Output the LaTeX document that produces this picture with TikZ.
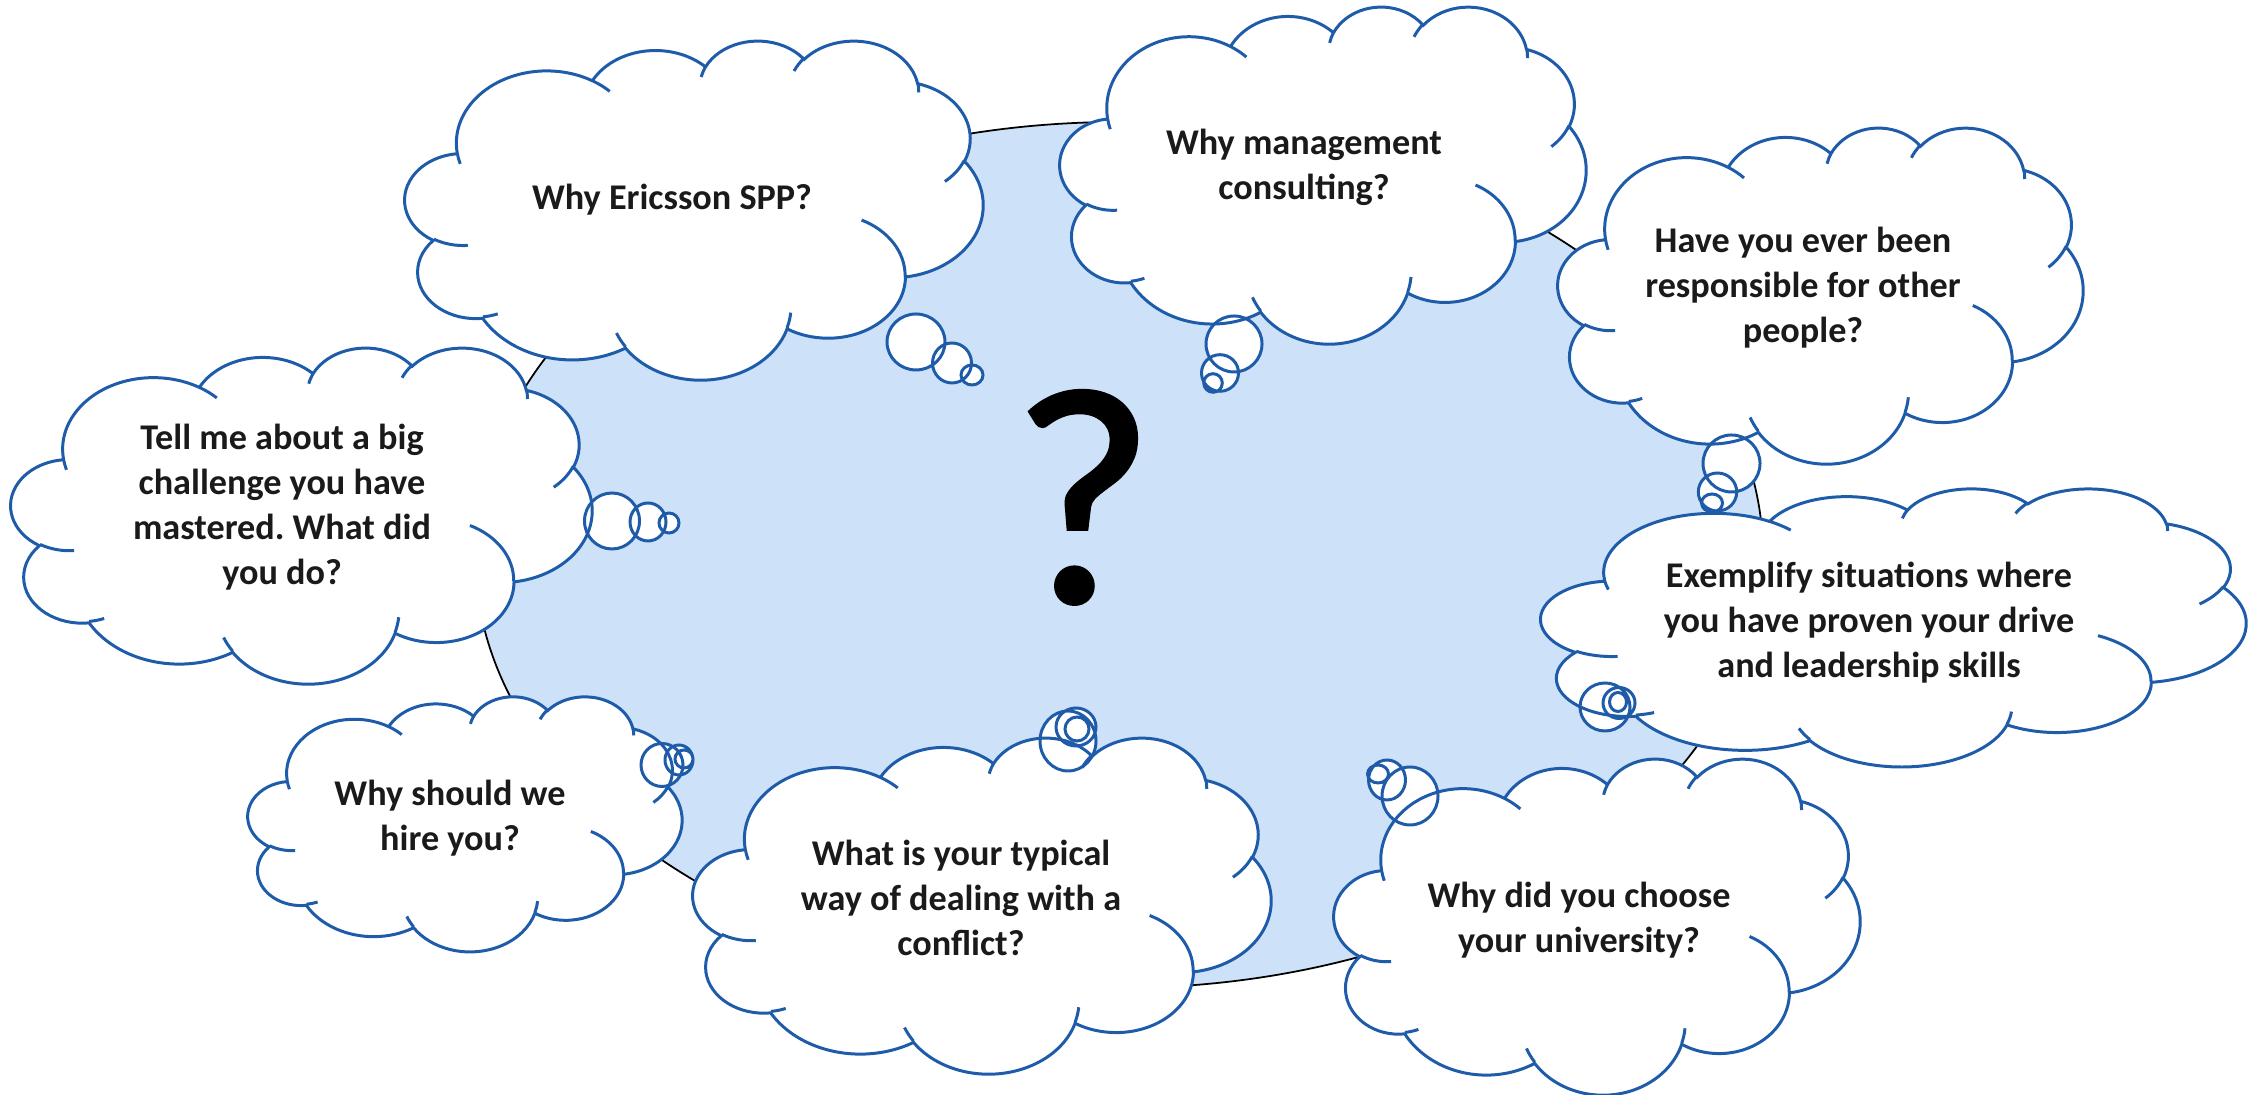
\documentclass[tikz,border=0pt]{standalone}
\usepackage{fontspec}
\setmainfont{Carlito}
\newfontfamily\qmarkfont[FakeBold=1.2]{Carlito}
\frenchspacing
\definecolor{ovalblue}{RGB}{205,225,249}
\definecolor{cloudblue}{RGB}{30,92,170}
\definecolor{textgrey}{RGB}{26,26,26}

% Outline of one cloud, in a unit box centred at the origin
\newcommand\cloudpath{(-0.4097,0.1674)
  arc[x radius=0.1563, y radius=0.2127, start angle=187.75, end angle=59.64]
  arc[x radius=0.1235, y radius=0.1682, start angle=152.02, end angle=45.43]
  arc[x radius=0.1010, y radius=0.1376, start angle=153.50, end angle=37.35]
  arc[x radius=0.1124, y radius=0.1527, start angle=139.71, end angle=10.21]
  arc[x radius=0.1235, y radius=0.1684, start angle=74.77, end angle=-23.21]
  arc[x radius=0.1568, y radius=0.2134, start angle=37.52, end angle=-81.86]
  arc[x radius=0.1339, y radius=0.1821, start angle=-0.46, end angle=-121.97]
  arc[x radius=0.1563, y radius=0.2133, start angle=-16.84, end angle=-146.22]
  arc[x radius=0.1787, y radius=0.2441, start angle=-58.98, end angle=-150.20]
  arc[x radius=0.1009, y radius=0.1370, start angle=276.69, end angle=136.90]
  arc[x radius=0.1006, y radius=0.1376, start angle=239.65, end angle=95.89]
  -- cycle}

% Short inner arcs of the cloud (same unit box)
\newcommand\cloudfolds{
  (-0.3914,-0.1060) arc[x radius=0.1006, y radius=0.1376, start angle=-85.55, end angle=-120.35]
  (-0.3396,-0.3079) arc[x radius=0.1009, y radius=0.1370, start angle=-68.24, end angle=-83.31]
  (-0.1186,-0.4049) arc[x radius=0.1563, y radius=0.2133, start angle=-146.22, end angle=-158.47]
  (0.1673,-0.3044) arc[x radius=0.1563, y radius=0.2133, start angle=-4.74, end angle=-16.84]
  (0.2900,-0.0313) arc[x radius=0.1339, y radius=0.1821, start angle=64.03, end angle=-0.46]
  (0.4676,0.1446) arc[x radius=0.1235, y radius=0.1684, start angle=-23.21, end angle=-49.64]
  (0.3871,0.3744) arc[x radius=0.1124, y radius=0.1527, start angle=10.21, end angle=-0.82]
  (0.1731,0.4085) arc[x radius=0.1124, y radius=0.1527, start angle=156.29, end angle=139.71]
  (0.0125,0.3907) arc[x radius=0.1010, y radius=0.1376, start angle=167.73, end angle=153.50]
  (-0.1759,0.3798) arc[x radius=0.1563, y radius=0.2127, start angle=59.64, end angle=45.71]
  (-0.4045,0.1345) arc[x radius=0.1563, y radius=0.2127, start angle=-163.19, end angle=-172.25]}

% #1,#2 centre, #3 width, #4 height, #5 the thought bubbles
\newcommand\thoughtcloud[5]{%
  \fill[white, shift={(#1,#2)}, xscale=#3, yscale=#4] \cloudpath;
  \fill[white] #5;
  \draw[cloudline, shift={(#1,#2)}, xscale=#3, yscale=#4] \cloudpath \cloudfolds;
  \draw[cloudline] #5;
}

\begin{document}
\begin{tikzpicture}[
    cloudline/.style={draw=cloudblue, line width=0.85pt},
    question/.style={align=center, text=textgrey,
      font=\fontsize{10.3}{12.8}\selectfont\bfseries},
    qmark/.style={anchor=base, font=\qmarkfont\fontsize{88}{88}\selectfont}]
    \useasboundingbox (0,0) rectangle (22.55,10.95);

    % Background oval
    \filldraw[fill=ovalblue, draw=black, line width=0.5pt]
        (11.19,5.40) ellipse[x radius=6.44, y radius=4.33];

    % Big question mark
    \node[qmark] (qm) at (10.83,4.93) {?};

    % Clouds with their bubbles
    \thoughtcloud{6.94}{8.855}{5.78}{3.39}{%
        (9.16,7.53) ellipse[x radius=0.29, y radius=0.28]
        (9.52,7.32) ellipse[x radius=0.195, y radius=0.20]
        (9.72,7.20) ellipse[x radius=0.11, y radius=0.10]}
    \thoughtcloud{13.23}{9.205}{5.26}{3.37}{%
        (12.34,7.51) ellipse[x radius=0.28, y radius=0.28]
        (12.20,7.22) ellipse[x radius=0.185, y radius=0.183]
        (12.13,7.12) ellipse[x radius=0.093, y radius=0.093]}
    \thoughtcloud{18.935}{4.68}{7.05}{2.78}{%
        (16.05,3.88) ellipse[x radius=0.25, y radius=0.24]
        (16.19,3.92) ellipse[x radius=0.16, y radius=0.155]
        (16.18,3.93) ellipse[x radius=0.085, y radius=0.095]}
    \thoughtcloud{18.205}{8.00}{5.25}{3.36}{%
        (17.315,6.315) ellipse[x radius=0.285, y radius=0.285]
        (17.175,6.03) ellipse[x radius=0.192, y radius=0.19]
        (17.12,5.92) ellipse[x radius=0.105, y radius=0.09]}
    \thoughtcloud{3.015}{5.80}{5.81}{3.36}{%
        (6.12,5.74) ellipse[x radius=0.275, y radius=0.28]
        (6.48,5.73) ellipse[x radius=0.18, y radius=0.19]
        (6.69,5.72) ellipse[x radius=0.10, y radius=0.10]}
    \thoughtcloud{4.65}{2.715}{4.34}{2.55}{%
        (6.62,3.30) ellipse[x radius=0.21, y radius=0.215]
        (6.79,3.35) ellipse[x radius=0.14, y radius=0.15]
        (6.84,3.36) ellipse[x radius=0.09, y radius=0.09]}
    \thoughtcloud{9.82}{1.90}{5.78}{3.36}{%
        (10.68,3.54) ellipse[x radius=0.28, y radius=0.30]
        (10.76,3.68) ellipse[x radius=0.20, y radius=0.19]
        (10.77,3.66) ellipse[x radius=0.12, y radius=0.12]}
    \thoughtcloud{15.97}{1.69}{5.26}{3.36}{%
        (14.10,2.99) ellipse[x radius=0.28, y radius=0.29]
        (13.87,3.15) ellipse[x radius=0.185, y radius=0.20]
        (13.78,3.21) ellipse[x radius=0.105, y radius=0.09]}

    % Questions
    \node[question] (ericsson) at (6.72,8.95) {Why Ericsson SPP?};
    \node[question] (consulting) at (13.04,9.28) {Why management\\consulting?};
    \node[question] (others) at (18.03,8.07) {Have you ever been\\responsible for other\\people?};
    \node[question] (challenge) at (2.82,5.88) {Tell me about a big\\challenge you have\\mastered. What did\\you do?};
    \node[question] (drive) at (18.69,4.72) {Exemplify situations where\\you have proven your drive\\and leadership skills};
    \node[question] (hire) at (4.50,2.77) {Why should we\\hire you?};
    \node[question] (conflict) at (9.61,1.97) {What is your typical\\way of dealing with a\\conflict?};
    \node[question] (university) at (15.79,1.75) {Why did you choose\\your university?};
\end{tikzpicture}
\end{document}
